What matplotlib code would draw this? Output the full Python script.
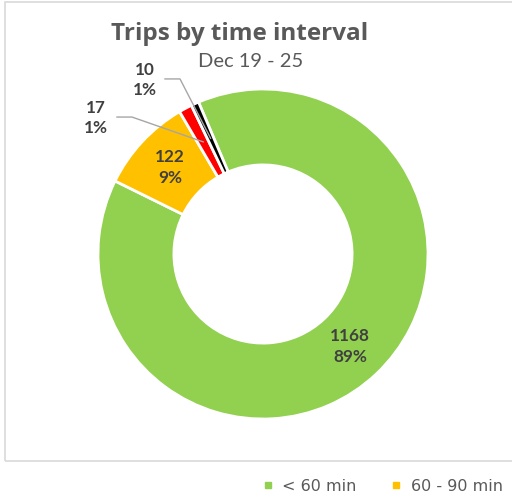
import matplotlib
matplotlib.use("Agg")
import matplotlib.pyplot as plt
from matplotlib.patches import Rectangle
from matplotlib.lines import Line2D
import numpy as np

# data
categories = ['< 60 min', '60 - 90 min', '90 - 120 min', '> 120 min']
trips = [1168, 122, 17, 10]
colors = ['#92D050', '#FFC000', '#FF0000', '#000000']
legend_shown = 2  # only the first two legend entries fit in the picture

W, H = 512, 498
fig = plt.figure(figsize=(W / 100, H / 100), dpi=100)

# chart area border (runs off the right edge)
fig.add_artist(Rectangle((4.5 / W, 1 - 461 / H), 1.0, (461 - 2.5) / H,
                         transform=fig.transFigure, fill=False,
                         edgecolor='#D9D9D9', lw=1.2))

# donut axes: centre (263, 254) px, radius 165 px
cx, cy, R = 263, 254, 165
ax = fig.add_axes([(cx - R) / W, (H - cy - R) / H, 2 * R / W, 2 * R / H])
wedges, _ = ax.pie(trips, colors=colors, startangle=113, counterclock=False,
                   radius=1, wedgeprops=dict(width=0.46, edgecolor='white', linewidth=2))
ax.set_xlim(-1, 1)
ax.set_ylim(-1, 1)
ax.axis('off')

total = sum(trips)
labels = ['%d\n%d%%' % (v, round(100 * v / total)) for v in trips]
lbl_kw = dict(fontsize=12.3, fontweight='bold', color='#404040', ha='center',
              va='center', linespacing=1.35, family=['Lato', 'DejaVu Sans'])

def mid_point(w, r):
    a = np.deg2rad((w.theta1 + w.theta2) / 2)
    return r * np.cos(a), r * np.sin(a)

# labels inside the ring
for i in range(2):
    x, y = mid_point(wedges[i], 0.77)
    ax.text(x, y, labels[i], **lbl_kw)

# outside labels with leader lines
outside = {2: ((-1.012, 0.824), (-0.885, 0.830), (-0.794, 0.830)),
           3: ((-0.715, 1.055), (-0.594, 1.061), (-0.503, 1.061))}
for i, (tpos, p0, p1) in outside.items():
    ax.text(tpos[0], tpos[1], labels[i], **lbl_kw)
    ex, ey = mid_point(wedges[i], 0.77)
    ax.plot([p0[0], p1[0], ex], [p0[1], p1[1], ey], color='#A6A6A6', lw=1,
            clip_on=False)

# title
fig.text(239.5 / W, 1 - 40 / H, 'Trips by time interval', ha='center',
         va='baseline', fontsize=17.5, fontweight='bold', color='#595959',
         family=['Open Sans', 'DejaVu Sans'])
fig.text(250.5 / W, 1 - 67 / H, 'Dec 19 - 25', ha='center', va='baseline',
         fontsize=14.5, color='#595959', family=['Lato', 'DejaVu Sans'])

# legend
handles = [Line2D([], [], marker='s', ls='none', color=c, markersize=5)
           for c in colors[:legend_shown]]
fig.legend(handles, categories[:legend_shown], loc='center left',
           bbox_to_anchor=(263 / W, 1 - 486 / H), ncol=legend_shown,
           frameon=False, handlelength=0.6, handletextpad=0.6,
           columnspacing=2.2, borderpad=0, borderaxespad=0,
           prop=dict(size=11.5), labelcolor='#595959')

fig.savefig('out.png', dpi=100)
